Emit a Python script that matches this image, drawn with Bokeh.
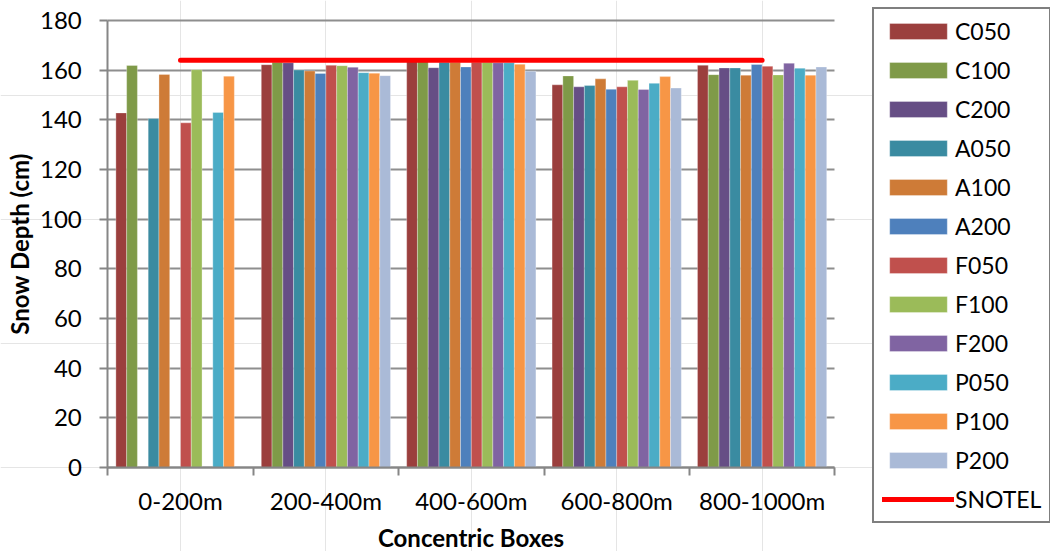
import numpy as np
from bokeh.plotting import figure
from bokeh.models import (Range1d, FixedTicker, Legend, LegendItem, ColumnDataSource,
                          LinearAxis, Grid)
from bokeh.embed import file_html
from bokeh.resources import INLINE

# ---------------- data ----------------
categories = ["0-200m", "200-400m", "400-600m", "600-800m", "800-1000m"]
series_names = ["C050", "C100", "C200", "A050", "A100", "A200",
                "F050", "F100", "F200", "P050", "P100", "P200"]

C050 = [142.8, 162.2, 163.5, 154.1, 162.0]
C100 = [161.9, 163.2, 163.5, 157.7, 158.2]
C200 = [np.nan, 163.0, 161.0, 153.3, 160.9]
A050 = [140.5, 160.1, 163.2, 153.8, 160.9]
A100 = [158.3, 159.7, 163.2, 156.5, 158.0]
A200 = [np.nan, 158.7, 161.3, 152.3, 162.3]
F050 = [138.8, 162.0, 163.2, 153.3, 161.6]
F100 = [160.2, 161.8, 163.2, 155.9, 158.1]
F200 = [np.nan, 161.2, 163.0, 152.2, 162.8]
P050 = [143.0, 159.0, 163.0, 154.7, 160.8]
P100 = [157.6, 158.8, 162.4, 157.4, 158.0]
P200 = [np.nan, 157.8, 159.6, 152.8, 161.3]
SNOTEL = [164, 164, 164, 164, 164]

y_ticks = [0, 20, 40, 60, 80, 100, 120, 140, 160, 180]

series_values = [C050, C100, C200, A050, A100, A200,
                 F050, F100, F200, P050, P100, P200]
colors = ["#9B3F3D", "#7F9A48", "#664E85", "#3A8BA1", "#CE7B37", "#4E80BC",
          "#C0504D", "#9BBB59", "#8064A2", "#4BACC6", "#F79646", "#AABAD7"]
snotel_color = "#FF0000"

FONT = "Lato"
AXIS_GRAY = "#868686"

# ---------------- layout (pixels inside the canvas) ----------------
W, H = 1050, 551
plot_left, plot_right = 107.3, 834.3     # category axis extent
plot_top, plot_bottom = 20.0, 467.0      # 180 / 0 positions

n_cat = len(categories)
x_lo, x_hi = -0.5, n_cat - 0.5
y_lo, y_hi = y_ticks[0], y_ticks[-1]
kx = (plot_right - plot_left) / (x_hi - x_lo)
ky = (plot_bottom - plot_top) / (y_hi - y_lo)

p = figure(width=W, height=H, title=None,
           x_range=Range1d(x_lo - plot_left / kx, x_hi + (W - plot_right) / kx),
           y_range=Range1d(y_lo - (H - plot_bottom) / ky, y_hi + plot_top / ky),
           x_axis_location=None, y_axis_location=None,
           output_backend="svg", toolbar_location=None,
           min_border=0, min_border_left=0, min_border_right=0,
           min_border_top=0, min_border_bottom=0)
p.outline_line_color = None
p.background_fill_color = "white"
p.border_fill_color = "white"

# ---------------- bars + SNOTEL line ----------------
n = len(series_names)
gap_ratio = 1.5
bar_w = 1.0 / (n + gap_ratio)
cat_idx = np.arange(n_cat)

items = []
for j, (name, vals, col) in enumerate(zip(series_names, series_values, colors)):
    src = ColumnDataSource(dict(x=cat_idx + (j - (n - 1) / 2) * bar_w, top=vals))
    r = p.vbar(x="x", top="top", width=bar_w, source=src,
               fill_color=col, line_color="white", line_alpha=0.3, line_width=1)
    items.append(LegendItem(label=name, renderers=[r]))

snotel_src = ColumnDataSource(dict(x=cat_idx, y=SNOTEL))
snotel_r = p.line(x="x", y="y", source=snotel_src, line_color=snotel_color,
                  line_width=5, line_cap="round")
items.append(LegendItem(label="SNOTEL", renderers=[snotel_r]))

# ---------------- grid ----------------
grid = Grid(dimension=1, ticker=FixedTicker(ticks=y_ticks),
            bounds=(y_lo, y_hi), cross_bounds=(x_lo, x_hi),
            grid_line_color="#8E8E8E", grid_line_width=2)
p.add_layout(grid)

# ---------------- axes ----------------
xa = LinearAxis(fixed_location=y_lo, bounds=(x_lo, x_hi),
                ticker=FixedTicker(ticks=list(cat_idx),
                                   minor_ticks=list(np.arange(x_lo, x_hi + 0.01, 1.0))))
xa.major_label_overrides = {int(i): c for i, c in zip(cat_idx, categories)}
xa.major_tick_out = 0
xa.major_tick_in = 0
xa.minor_tick_out = 8
xa.minor_tick_in = 0
xa.minor_tick_line_color = AXIS_GRAY
xa.minor_tick_line_width = 2
xa.axis_line_color = AXIS_GRAY
xa.axis_line_width = 2
xa.major_label_text_font = FONT
xa.major_label_text_font_size = "24px"
xa.major_label_text_color = "#000000"
xa.major_label_standoff = 10
xa.axis_label = "Concentric Boxes"
xa.axis_label_text_font = FONT
xa.axis_label_text_font_size = "24px"
xa.axis_label_text_font_style = "bold"
xa.axis_label_text_color = "#000000"
xa.axis_label_standoff = 5
p.add_layout(xa, "below")

ya = LinearAxis(fixed_location=x_lo, bounds=(y_lo, y_hi),
                ticker=FixedTicker(ticks=y_ticks))
ya.major_tick_out = 8
ya.major_tick_in = 0
ya.minor_tick_out = 0
ya.minor_tick_in = 0
ya.major_tick_line_color = AXIS_GRAY
ya.major_tick_line_width = 2
ya.axis_line_color = AXIS_GRAY
ya.axis_line_width = 2
ya.major_label_text_font = FONT
ya.major_label_text_font_size = "24px"
ya.major_label_text_color = "#000000"
ya.major_label_standoff = 18
ya.axis_label = "Snow Depth (cm)"
ya.axis_label_text_font = FONT
ya.axis_label_text_font_size = "24px"
ya.axis_label_text_font_style = "bold"
ya.axis_label_text_color = "#000000"
ya.axis_label_standoff = 3
p.add_layout(ya, "left")

# ---------------- legend ----------------
legend_left, legend_top, legend_h = 872, 11, 512
legend = Legend(items=items, location=(legend_left, H - legend_top - legend_h),
                padding=8, margin=0,
                spacing=11, glyph_width=72, glyph_height=20, label_height=20,
                label_standoff=1,
                border_line_color="#000000", border_line_width=2,
                background_fill_color="white", background_fill_alpha=1,
                label_text_font=FONT, label_text_font_size="23px",
                label_text_color="#000000")
p.add_layout(legend)

open("out.html", "w").write(file_html(p, INLINE))
